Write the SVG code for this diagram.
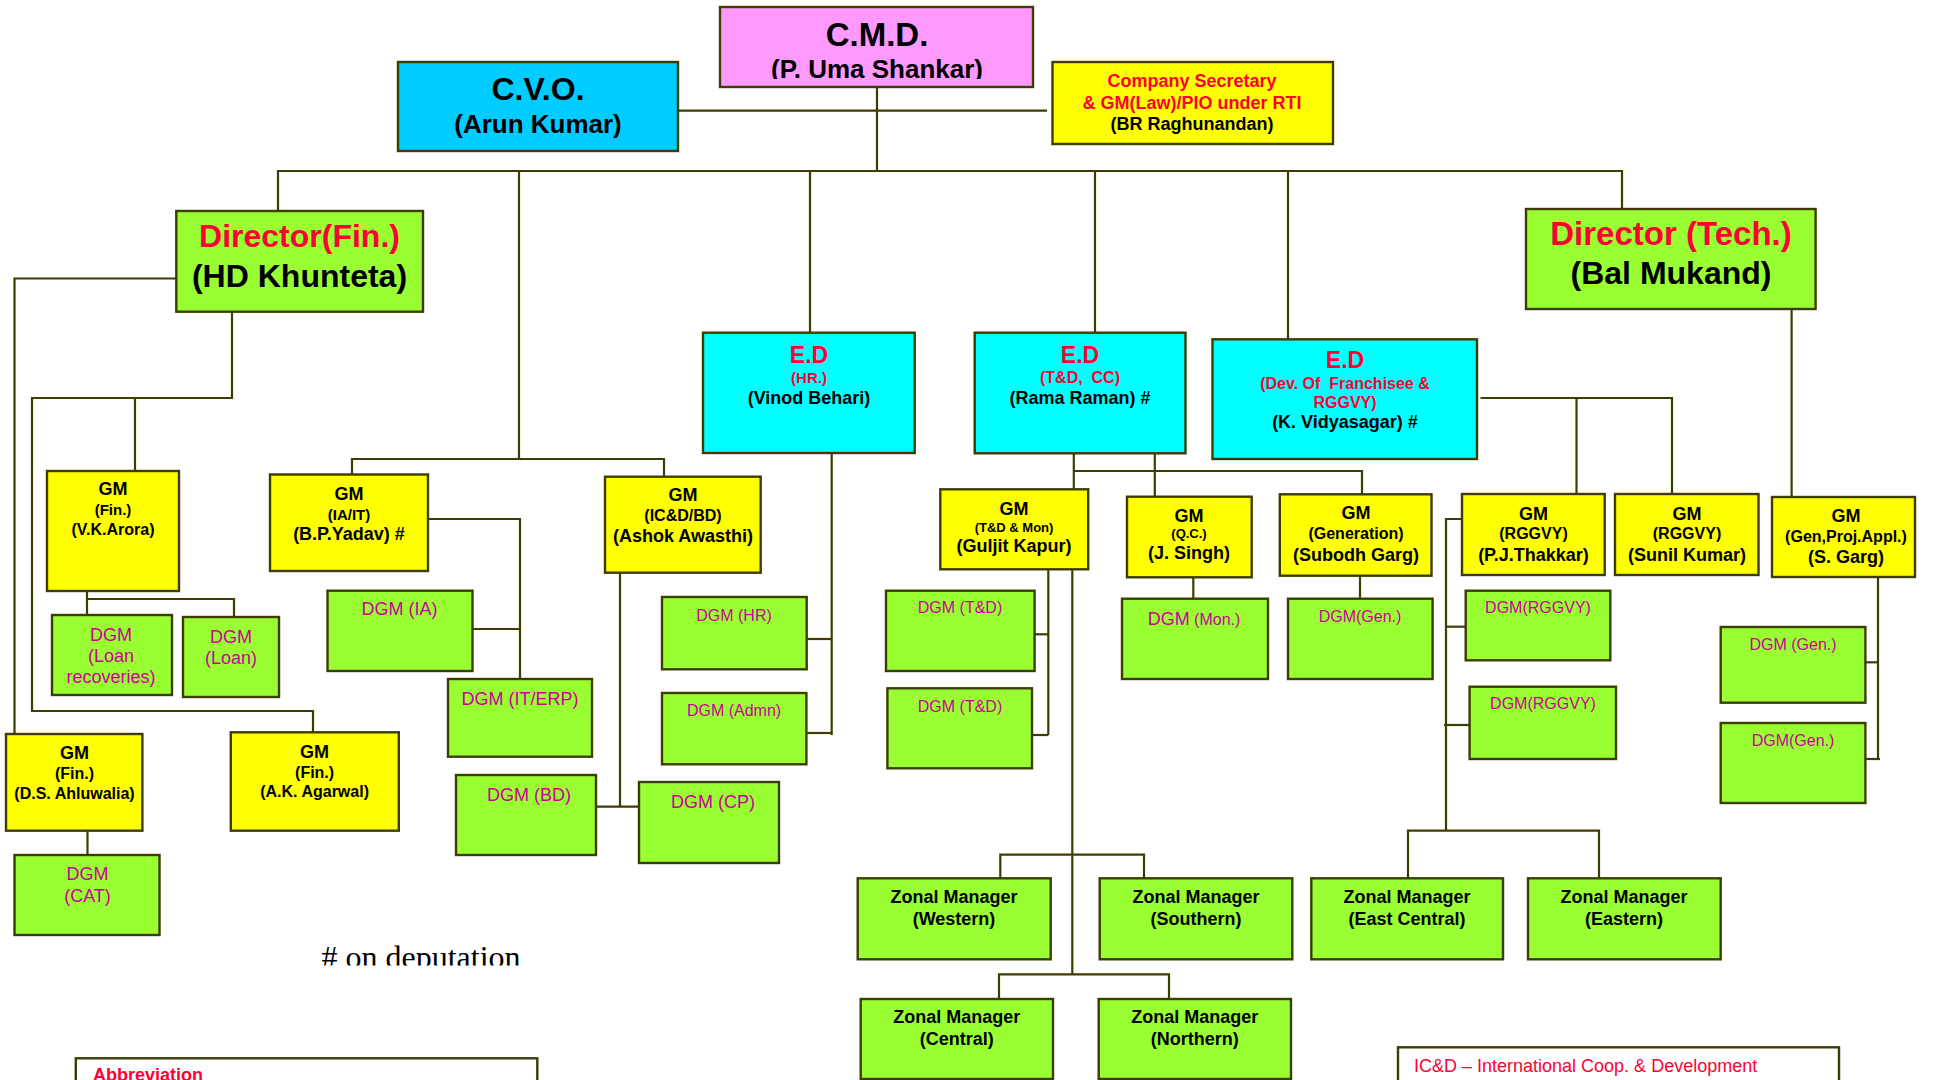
<svg xmlns="http://www.w3.org/2000/svg" width="1933" height="1080" viewBox="0 0 1933 1080">
<style>
.box{stroke:#3d3d00;stroke-width:2.4}
.y{fill:#FFFF00}.g{fill:#99FF33}.c{fill:#00FFFF}.b{fill:#00CCFF}.p{fill:#FF99FF}.w{fill:#FFFFFF}
text{font-family:"Liberation Sans",Arial,sans-serif;text-anchor:middle}
.bd{font-weight:bold}
.r{fill:#FF0033}.k{fill:#000000}.m{fill:#CC0099}
#connectors path{fill:none;stroke:#3d3d00;stroke-width:2.2}
</style>
<defs>
<clipPath id="cmdclip"><rect x="700" y="0" width="350" height="79"/></clipPath>
<clipPath id="depclip"><rect x="300" y="920" width="260" height="45.5"/></clipPath>
</defs>
<rect width="1933" height="1080" fill="#FFFFFF"/>

<g id="connectors">
<path d="M678,110.7 H1047"/>
<path d="M877,87 V171"/>
<path d="M278,211 V171 H1622 V209"/>
<path d="M519,171 V459"/>
<path d="M810,171 V333"/>
<path d="M1095,171 V333"/>
<path d="M1288,171 V339"/>
<path d="M176,278.5 H14.5 V734"/>
<path d="M232,312 V398 H32 V711 H313 V732"/>
<path d="M135,398 V471"/>
<path d="M87,591 V615"/>
<path d="M87,599 H234 V617"/>
<path d="M87.5,831 V855"/>
<path d="M352,474 V459 H664 V477"/>
<path d="M428,519 H520 V679"/>
<path d="M472.5,629 H520"/>
<path d="M620,573 V806.7"/>
<path d="M596,806.7 H639"/>
<path d="M831.7,453 V735"/>
<path d="M806.7,639 H831.7"/>
<path d="M806.4,733 H831.7"/>
<path d="M1073.8,453 V489"/>
<path d="M1154.8,453 V497"/>
<path d="M1073.8,471 H1362 V494"/>
<path d="M1048.3,569 V735"/>
<path d="M1034.6,634.3 H1048.3"/>
<path d="M1032,735 H1048.3"/>
<path d="M1072.3,569 V974.3"/>
<path d="M1000.3,878.3 V854.7 H1144 V878.3"/>
<path d="M999,999 V974.3 H1169 V999"/>
<path d="M1193.3,577.3 V598.7"/>
<path d="M1360,575.7 V598.7"/>
<path d="M1480.5,398 H1672 V494"/>
<path d="M1576.5,398 V494"/>
<path d="M1462,519 H1446 V830.7"/>
<path d="M1446,626.7 H1465.7"/>
<path d="M1444,725 H1469.6"/>
<path d="M1408,878.3 V830.7 H1599 V878.3"/>
<path d="M1573,902.7 H1597"/>
<path d="M1791.6,309 V497"/>
<path d="M1878,577 V759"/>
<path d="M1865.4,662.3 H1878"/>
<path d="M1865.4,759 H1880"/>
</g>

<g id="cmd">
<rect class="box p" x="720" y="7" width="313" height="80"/>
<text class="bd k" x="877" y="46" font-size="33">C.M.D.</text>
<text class="bd k" x="877" y="77.5" font-size="26" clip-path="url(#cmdclip)">(P. Uma Shankar)</text>
</g>

<g id="cvo">
<rect class="box b" x="398" y="62" width="280" height="89"/>
<text class="bd k" x="538" y="100" font-size="32">C.V.O.</text>
<text class="bd k" x="538" y="133" font-size="26">(Arun Kumar)</text>
</g>

<g id="company-secretary">
<rect class="box y" x="1052.5" y="62" width="280.5" height="82"/>
<text class="bd r" x="1192" y="87" font-size="18">Company Secretary</text>
<text class="bd r" x="1192" y="109" font-size="18">&amp; GM(Law)/PIO under RTI</text>
<text class="bd k" x="1192" y="130" font-size="18">(BR Raghunandan)</text>
</g>

<g id="director-fin">
<rect class="box g" x="176.3" y="211" width="246.7" height="100.7"/>
<text class="bd r" x="299.5" y="247" font-size="32">Director(Fin.)</text>
<text class="bd k" x="299.5" y="287" font-size="32">(HD Khunteta)</text>
</g>

<g id="director-tech">
<rect class="box g" x="1526" y="209" width="289.6" height="100"/>
<text class="bd r" x="1671" y="245" font-size="33">Director (Tech.)</text>
<text class="bd k" x="1671" y="284" font-size="32">(Bal Mukand)</text>
</g>

<g id="ed-hr">
<rect class="box c" x="703" y="332.7" width="211.7" height="120.3"/>
<text class="bd r" x="809" y="362.7" font-size="23">E.D</text>
<text class="bd r" x="809" y="383" font-size="15">(HR.)</text>
<text class="bd k" x="809" y="404" font-size="18">(Vinod Behari)</text>
</g>

<g id="ed-td">
<rect class="box c" x="974.7" y="332.7" width="210.8" height="120.6"/>
<text class="bd r" x="1080" y="362.7" font-size="23">E.D</text>
<text class="bd r" x="1080" y="383.3" font-size="16" xml:space="preserve">(T&amp;D,  CC)</text>
<text class="bd k" x="1080" y="404" font-size="18">(Rama Raman) #</text>
</g>

<g id="ed-dev">
<rect class="box c" x="1212.5" y="339.3" width="264.5" height="119.7"/>
<text class="bd r" x="1345" y="368.3" font-size="23">E.D</text>
<text class="bd r" x="1345" y="389" font-size="16" xml:space="preserve">(Dev. Of  Franchisee &amp;</text>
<text class="bd r" x="1345" y="408" font-size="16">RGGVY)</text>
<text class="bd k" x="1345" y="428" font-size="18">(K. Vidyasagar) #</text>
</g>

<g id="gm-vk-arora">
<rect class="box y" x="47" y="471" width="132" height="120"/>
<text class="bd k" x="113" y="495" font-size="18">GM</text>
<text class="bd k" x="113" y="515" font-size="15">(Fin.)</text>
<text class="bd k" x="113" y="535" font-size="16">(V.K.Arora)</text>
</g>

<g id="gm-ia-it">
<rect class="box y" x="270" y="474.5" width="158" height="96.5"/>
<text class="bd k" x="349" y="500" font-size="18">GM</text>
<text class="bd k" x="349" y="520" font-size="15">(IA/IT)</text>
<text class="bd k" x="349" y="540" font-size="18">(B.P.Yadav) #</text>
</g>

<g id="gm-icd-bd">
<rect class="box y" x="605" y="476.7" width="155.7" height="96"/>
<text class="bd k" x="683" y="501" font-size="18">GM</text>
<text class="bd k" x="683" y="521" font-size="16">(IC&amp;D/BD)</text>
<text class="bd k" x="683" y="542" font-size="18">(Ashok Awasthi)</text>
</g>

<g id="gm-td-mon">
<rect class="box y" x="940.3" y="489.3" width="147.9" height="80"/>
<text class="bd k" x="1014" y="515" font-size="18">GM</text>
<text class="bd k" x="1014" y="531.7" font-size="13">(T&amp;D &amp; Mon)</text>
<text class="bd k" x="1014" y="552.3" font-size="18">(Guljit Kapur)</text>
</g>

<g id="gm-qc">
<rect class="box y" x="1127" y="496.7" width="124.7" height="80.6"/>
<text class="bd k" x="1189" y="521.7" font-size="18">GM</text>
<text class="bd k" x="1189" y="538.3" font-size="13">(Q.C.)</text>
<text class="bd k" x="1189" y="559.3" font-size="18">(J. Singh)</text>
</g>

<g id="gm-generation">
<rect class="box y" x="1279.8" y="494.3" width="151.7" height="81.4"/>
<text class="bd k" x="1356" y="519.3" font-size="18">GM</text>
<text class="bd k" x="1356" y="539.3" font-size="16">(Generation)</text>
<text class="bd k" x="1356" y="560.7" font-size="18">(Subodh Garg)</text>
</g>

<g id="gm-rggvy-thakkar">
<rect class="box y" x="1462" y="494" width="142.7" height="81"/>
<text class="bd k" x="1533.5" y="520" font-size="18">GM</text>
<text class="bd k" x="1533.5" y="539" font-size="16">(RGGVY)</text>
<text class="bd k" x="1533.5" y="561" font-size="18">(P.J.Thakkar)</text>
</g>

<g id="gm-rggvy-sunil">
<rect class="box y" x="1615" y="494" width="143.5" height="81"/>
<text class="bd k" x="1687" y="520" font-size="18">GM</text>
<text class="bd k" x="1687" y="539" font-size="16">(RGGVY)</text>
<text class="bd k" x="1687" y="561" font-size="18">(Sunil Kumar)</text>
</g>

<g id="gm-gen-proj">
<rect class="box y" x="1772" y="497" width="143" height="80"/>
<text class="bd k" x="1846" y="522" font-size="18">GM</text>
<text class="bd k" x="1846" y="542" font-size="16">(Gen,Proj.Appl.)</text>
<text class="bd k" x="1846" y="563" font-size="18">(S. Garg)</text>
</g>

<g id="gm-ds-ahluwalia">
<rect class="box y" x="6" y="734" width="136.4" height="96.7"/>
<text class="bd k" x="74.5" y="759.3" font-size="18">GM</text>
<text class="bd k" x="74.5" y="779.3" font-size="16">(Fin.)</text>
<text class="bd k" x="74.5" y="799" font-size="16">(D.S. Ahluwalia)</text>
</g>

<g id="gm-ak-agarwal">
<rect class="box y" x="230.8" y="732.3" width="168" height="98.4"/>
<text class="bd k" x="314.6" y="758.3" font-size="18">GM</text>
<text class="bd k" x="314.6" y="778.3" font-size="16">(Fin.)</text>
<text class="bd k" x="314.6" y="797.3" font-size="16">(A.K. Agarwal)</text>
</g>

<g id="dgm-loan-recoveries">
<rect class="box g" x="52" y="615" width="120" height="80"/>
<text class="m" x="111" y="641" font-size="18">DGM</text>
<text class="m" x="111" y="662" font-size="18">(Loan</text>
<text class="m" x="111" y="683" font-size="18">recoveries)</text>
</g>

<g id="dgm-loan">
<rect class="box g" x="183" y="617" width="96" height="80"/>
<text class="m" x="231" y="643" font-size="18">DGM</text>
<text class="m" x="231" y="664" font-size="18">(Loan)</text>
</g>

<g id="dgm-cat">
<rect class="box g" x="14.5" y="855" width="145" height="80"/>
<text class="m" x="87.5" y="880" font-size="18">DGM</text>
<text class="m" x="87.5" y="901.7" font-size="18">(CAT)</text>
</g>

<g id="dgm-ia">
<rect class="box g" x="327.5" y="590.7" width="145" height="80.3"/>
<text class="m" x="399.5" y="615" font-size="18">DGM (IA)</text>
</g>

<g id="dgm-it-erp">
<rect class="box g" x="448" y="679" width="144" height="77.7"/>
<text class="m" x="520" y="705" font-size="18">DGM (IT/ERP)</text>
</g>

<g id="dgm-bd">
<rect class="box g" x="456" y="775" width="140" height="80"/>
<text class="m" x="529" y="800.7" font-size="18">DGM (BD)</text>
</g>

<g id="dgm-cp">
<rect class="box g" x="639" y="782" width="140" height="81"/>
<text class="m" x="713" y="808" font-size="18">DGM (CP)</text>
</g>

<g id="dgm-hr">
<rect class="box g" x="662" y="597" width="144.7" height="72.3"/>
<text class="m" x="734" y="621" font-size="16">DGM (HR)</text>
</g>

<g id="dgm-admn">
<rect class="box g" x="662" y="693" width="144.4" height="71.3"/>
<text class="m" x="734" y="716" font-size="16">DGM (Admn)</text>
</g>

<g id="dgm-td-1">
<rect class="box g" x="886" y="590.7" width="148.6" height="80.3"/>
<text class="m" x="960" y="613.3" font-size="16">DGM (T&amp;D)</text>
</g>

<g id="dgm-td-2">
<rect class="box g" x="887.4" y="688.3" width="144.6" height="80"/>
<text class="m" x="960" y="711.7" font-size="16">DGM (T&amp;D)</text>
</g>

<g id="dgm-mon">
<rect class="box g" x="1122" y="598.7" width="146" height="80.3"/>
<text class="m" x="1194" y="625"><tspan font-size="18">DGM</tspan><tspan font-size="16"> (Mon.)</tspan></text>
</g>

<g id="dgm-gen">
<rect class="box g" x="1288" y="598.7" width="144.6" height="80.3"/>
<text class="m" x="1360" y="621.7" font-size="16">DGM(Gen.)</text>
</g>

<g id="dgm-rggvy-1">
<rect class="box g" x="1465.7" y="590.7" width="144.6" height="69.6"/>
<text class="m" x="1538" y="613.3" font-size="16">DGM(RGGVY)</text>
</g>

<g id="dgm-rggvy-2">
<rect class="box g" x="1469.6" y="686.7" width="146.4" height="72.3"/>
<text class="m" x="1543" y="709.3" font-size="16">DGM(RGGVY)</text>
</g>

<g id="dgm-gen-right-1">
<rect class="box g" x="1720.7" y="627" width="144.7" height="75.7"/>
<text class="m" x="1793" y="650" font-size="16">DGM (Gen.)</text>
</g>

<g id="dgm-gen-right-2">
<rect class="box g" x="1720.7" y="723" width="144.7" height="80"/>
<text class="m" x="1793" y="745.7" font-size="16">DGM(Gen.)</text>
</g>

<g id="zm-western">
<rect class="box g" x="857.7" y="878.3" width="193" height="81"/>
<text class="bd k" x="954" y="903.3" font-size="18">Zonal Manager</text>
<text class="bd k" x="954" y="925" font-size="18">(Western)</text>
</g>

<g id="zm-southern">
<rect class="box g" x="1099.7" y="878.3" width="192.6" height="81"/>
<text class="bd k" x="1196" y="903.3" font-size="18">Zonal Manager</text>
<text class="bd k" x="1196" y="925" font-size="18">(Southern)</text>
</g>

<g id="zm-east-central">
<rect class="box g" x="1311.3" y="878.3" width="191.7" height="81"/>
<text class="bd k" x="1407" y="903.3" font-size="18">Zonal Manager</text>
<text class="bd k" x="1407" y="925" font-size="18">(East Central)</text>
</g>

<g id="zm-eastern">
<rect class="box g" x="1528" y="878.3" width="192.7" height="81"/>
<text class="bd k" x="1624" y="903.3" font-size="18">Zonal Manager</text>
<text class="bd k" x="1624" y="925" font-size="18">(Eastern)</text>
</g>

<g id="zm-central">
<rect class="box g" x="860.7" y="999" width="192.3" height="80"/>
<text class="bd k" x="956.7" y="1023.3" font-size="18">Zonal Manager</text>
<text class="bd k" x="956.7" y="1045" font-size="18">(Central)</text>
</g>

<g id="zm-northern">
<rect class="box g" x="1098.7" y="999" width="192.3" height="80"/>
<text class="bd k" x="1194.7" y="1023.3" font-size="18">Zonal Manager</text>
<text class="bd k" x="1194.7" y="1045" font-size="18">(Northern)</text>
</g>

<g id="deputation-note">
<text x="421" y="968" font-size="32" clip-path="url(#depclip)" style="font-family:'Liberation Serif','Times New Roman',serif;fill:#000">#  on deputation</text>
</g>

<g id="abbreviation-box">
<rect class="box w" x="75.8" y="1058.3" width="461.5" height="40"/>
<text class="bd r" x="93" y="1081" font-size="18" style="text-anchor:start">Abbreviation</text>
</g>

<g id="icd-box">
<rect class="box w" x="1398" y="1047.3" width="441" height="50"/>
<text class="r" x="1414" y="1071.7" font-size="18" style="text-anchor:start">IC&amp;D – International Coop. &amp; Development</text>
</g>
</svg>
